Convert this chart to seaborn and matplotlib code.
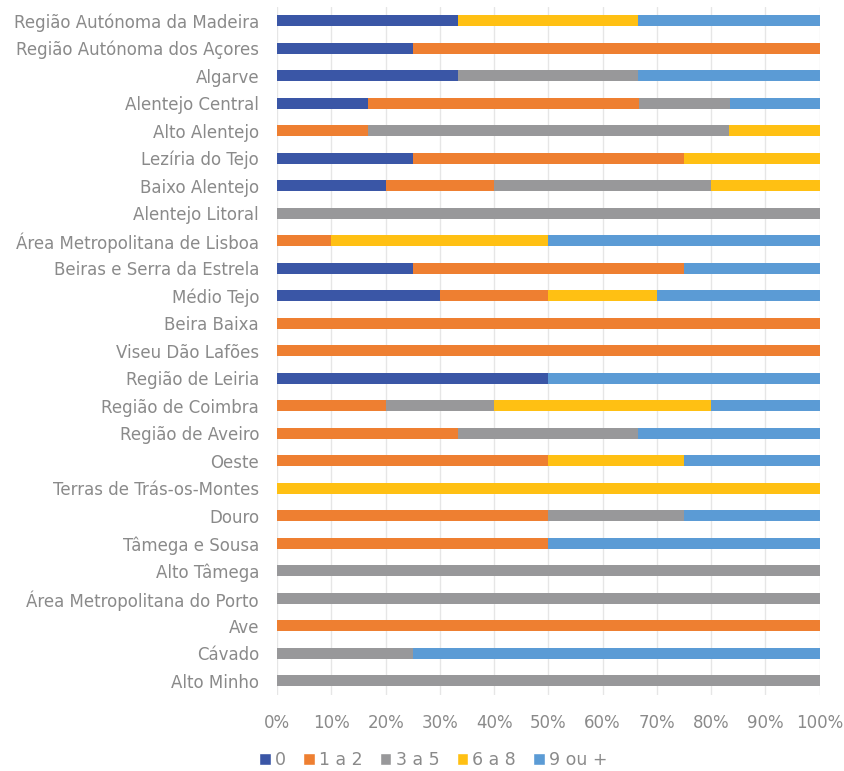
import numpy as np
import pandas as pd
import seaborn as sns
import matplotlib.pyplot as plt
from matplotlib.patches import Patch

# regions, top to bottom as shown
regions = [
    "Região Autónoma da Madeira", "Região Autónoma dos Açores", "Algarve",
    "Alentejo Central", "Alto Alentejo", "Lezíria do Tejo", "Baixo Alentejo",
    "Alentejo Litoral", "Área Metropolitana de Lisboa", "Beiras e Serra da Estrela",
    "Médio Tejo", "Beira Baixa", "Viseu Dão Lafões", "Região de Leiria",
    "Região de Coimbra", "Região de Aveiro", "Oeste", "Terras de Trás-os-Montes",
    "Douro", "Tâmega e Sousa", "Alto Tâmega", "Área Metropolitana do Porto",
    "Ave", "Cávado", "Alto Minho",
]

series = ["0", "1 a 2", "3 a 5", "6 a 8", "9 ou +"]

# shares (%) per region
s0 =   [33.3, 25, 33.3, 16.7, 0, 25, 20, 0, 0, 25, 30, 0, 0, 50, 0, 0, 0, 0, 0, 0, 0, 0, 0, 0, 0]
s1_2 = [0, 75, 0, 50, 16.7, 50, 20, 0, 10, 50, 20, 100, 100, 0, 20, 33.3, 50, 0, 50, 50, 0, 0, 100, 0, 0]
s3_5 = [0, 0, 33.3, 16.7, 66.7, 0, 40, 100, 0, 0, 0, 0, 0, 0, 20, 33.3, 0, 0, 25, 0, 100, 100, 0, 25, 100]
s6_8 = [33.3, 0, 0, 0, 16.7, 25, 20, 0, 40, 0, 20, 0, 0, 0, 40, 0, 25, 100, 0, 0, 0, 0, 0, 0, 0]
s9 =   [33.4, 0, 33.4, 16.6, 0, 0, 0, 0, 50, 25, 30, 0, 0, 50, 20, 33.4, 25, 0, 25, 50, 0, 0, 0, 75, 0]

colors = ["#3A56A6", "#EE7F31", "#98989A", "#FFC013", "#5B9BD5"]
text_color = "#8A8A8A"

df = pd.DataFrame({"region": regions, "0": s0, "1 a 2": s1_2, "3 a 5": s3_5,
                   "6 a 8": s6_8, "9 ou +": s9})
totals = df[series].sum(axis=1)
for s in series:
    df[s] = df[s] / totals * 100
cum = df[series].cumsum(axis=1)

sns.set_style("white")
plt.rcParams["font.family"] = ["DejaVu Sans"]

fig = plt.figure(figsize=(8.45, 7.71), dpi=100)
ax = fig.add_axes([0.328, 0.099, 0.642, 0.892])

# stacked bars: draw cumulative totals from the last series backwards
for s, c in reversed(list(zip(series, colors))):
    sns.barplot(x=cum[s], y=df["region"], color=c, orient="h", width=0.4,
                linewidth=0, saturation=1, ax=ax)

ax.set_xlim(0, 100)
ax.set_xticks(np.arange(0, 101, 10))
ax.set_xticklabels([f"{t}%" for t in range(0, 101, 10)])
ax.set_xlabel("")
ax.set_ylabel("")
ax.grid(axis="x", color="#E6E6E6", linewidth=1)
ax.set_axisbelow(True)
for sp in ax.spines.values():
    sp.set_visible(False)
ax.tick_params(axis="both", length=0, colors=text_color, labelsize=12)
ax.tick_params(axis="x", pad=14)
ax.tick_params(axis="y", pad=13)

handles = [Patch(facecolor=c, label=s) for s, c in zip(series, colors)]
fig.legend(handles=handles, loc="lower center", bbox_to_anchor=(0.513, -0.018),
           ncol=5, frameon=False, fontsize=12.5, handlelength=0.65, handleheight=0.65,
           handletextpad=0.25, columnspacing=1.0, labelcolor=text_color)

fig.savefig("out.png", dpi=100)
